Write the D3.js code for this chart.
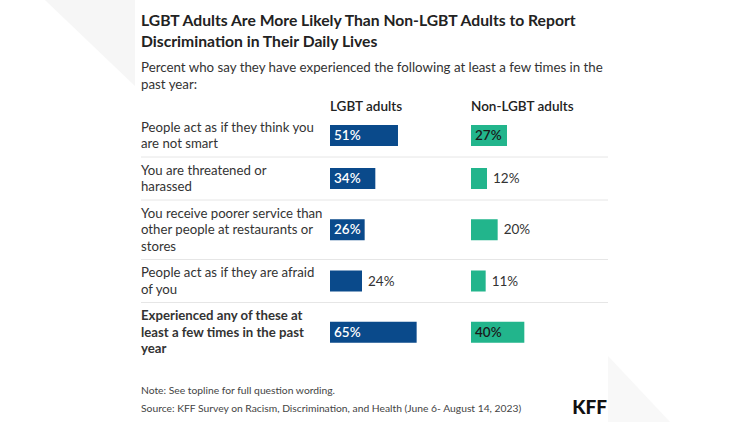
<!DOCTYPE html>
<html>
<head>
<meta charset="utf-8">
<script src="https://cdn.jsdelivr.net/npm/d3@7"></script>
<style>
  body { margin: 0; background: #fff; }
  svg text { font-family: Lato, "Open Sans", sans-serif; }
</style>
</head>
<body>
<svg id="chart" width="750" height="422"></svg>
<script>
// chart data
const categories = [
  'People act as if they think you\nare not smart',
  'You are threatened or\nharassed',
  'You receive poorer service than\nother people at restaurants or\nstores',
  'People act as if they are afraid\nof you',
  'Experienced any of these at\nleast a few times in the past\nyear'
];
const lgbtValues = [51, 34, 26, 24, 65];
const nonLgbtValues = [27, 12, 20, 11, 40];
const seriesNames = ['LGBT adults', 'Non-LGBT adults'];

const svg = d3.select('#chart');

// faint background shapes around the card
svg.append('polygon')
    .attr('points', '45,0 135,0 135,86')
    .attr('fill', '#f6f6f6');
svg.append('polygon')
    .attr('points', '608,356 608,422 670,422')
    .attr('fill', '#f8f8f8');

const left = 141;
const lineH = 16.5;

// title + subtitle
const title = svg.append('text')
    .attr('x', left).attr('y', 26)
    .attr('font-size', 15.7).attr('font-weight', 700).attr('fill', '#222');
title.append('tspan').attr('x', left).text('LGBT Adults Are More Likely Than Non-LGBT Adults to Report');
title.append('tspan').attr('x', left).attr('dy', 21).text('Discrimination in Their Daily Lives');

const sub = svg.append('text')
    .attr('x', left).attr('y', 72)
    .attr('font-size', 13.3).attr('fill', '#333');
sub.append('tspan').attr('x', left).text('Percent who say they have experienced the following at least a few times in the');
sub.append('tspan').attr('x', left).attr('dy', 17).text('past year:');

// column positions
const colX = [330, 471];
const x = d3.scaleLinear().domain([0, 100]).range([0, 133.3]);

svg.selectAll('.col-head')
    .data(seriesNames)
    .enter().append('text')
    .attr('class', 'col-head')
    .attr('x', (d, i) => colX[i])
    .attr('y', 111)
    .attr('font-size', 13.5).attr('font-weight', 600).attr('fill', '#222')
    .text(d => d);

// row layout: height depends on number of label lines
const rows = categories.map((c, i) => ({
    lines: c.split('\n'),
    values: [lgbtValues[i], nonLgbtValues[i]],
    bold: i === categories.length - 1
}));
let rowTop = 114;
rows.forEach(r => {
    r.top = rowTop;
    r.h = r.lines.length * lineH + 10;
    r.cy = rowTop + r.h / 2;
    rowTop += r.h;
});

const row = svg.selectAll('.row')
    .data(rows)
    .enter().append('g')
    .attr('class', 'row');

// separators
row.filter((d, i) => i < rows.length - 1)
    .append('line')
    .attr('x1', left).attr('x2', 608)
    .attr('y1', d => d.top + d.h).attr('y2', d => d.top + d.h)
    .attr('stroke', '#e6e6e6').attr('stroke-width', 1);

// category labels
row.append('text')
    .attr('font-size', 13.2)
    .attr('font-weight', d => d.bold ? 700 : 400)
    .attr('fill', '#333')
    .each(function(d) {
        const t = d3.select(this);
        d.lines.forEach((ln, j) => {
            t.append('tspan')
                .attr('x', left)
                .attr('y', d.cy + (j - (d.lines.length - 1) / 2) * lineH)
                .attr('dy', '0.35em')
                .text(ln);
        });
    });

const colors = ['#0a4a8b', '#22b58c'];
const insideText = ['#fff', '#1a1a1a'];
const barH = 21;

[0, 1].forEach(s => {
    row.append('rect')
        .attr('x', colX[s])
        .attr('y', d => d.cy - barH / 2)
        .attr('width', d => x(d.values[s]))
        .attr('height', barH)
        .attr('fill', colors[s]);

    row.append('text')
        .attr('x', d => d.values[s] >= 25 ? colX[s] + 4 : colX[s] + x(d.values[s]) + 6)
        .attr('y', d => d.cy)
        .attr('dy', '0.35em')
        .attr('font-size', 13.5)
        .attr('font-weight', d => d.values[s] >= 25 ? 600 : 400)
        .attr('fill', d => d.values[s] >= 25 ? insideText[s] : '#333')
        .text(d => d.values[s] + '%');
});

// notes
svg.append('text')
    .attr('x', left).attr('y', 394)
    .attr('font-size', 10.3).attr('fill', '#444')
    .text('Note: See topline for full question wording.');
svg.append('text')
    .attr('x', left).attr('y', 412)
    .attr('font-size', 10.3).attr('fill', '#444')
    .text('Source: KFF Survey on Racism, Discrimination, and Health (June 6- August 14, 2023)');

svg.append('text')
    .attr('x', 607).attr('y', 414)
    .attr('text-anchor', 'end')
    .attr('font-size', 19).attr('font-weight', 900)
    .attr('font-family', 'Roboto, sans-serif')
    .attr('fill', '#111')
    .text('KFF');
</script>
</body>
</html>
